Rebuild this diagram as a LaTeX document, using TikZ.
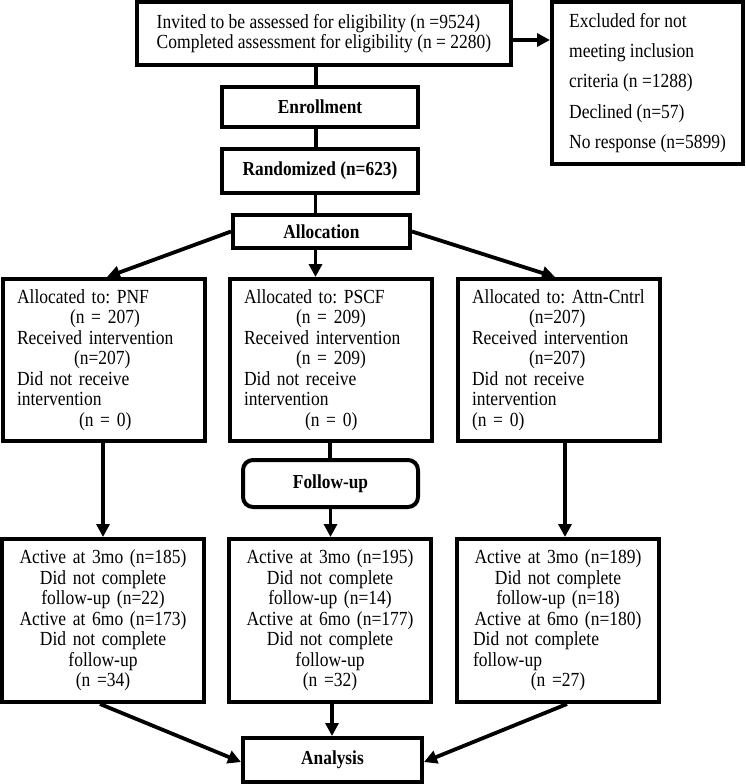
\documentclass[tikz,border=0pt]{standalone}
\usepackage{fontspec}
\setmainfont{Liberation Serif}[FakeStretch=0.875]
\usetikzlibrary{arrows.meta}
\setlength{\parindent}{0pt}
\frenchspacing
\begin{document}
\begin{tikzpicture}[x=1pt,y=-1pt,
  box/.style={draw, line width=4pt, inner sep=0pt, font=\fontsize{20}{20.5}\selectfont},
  hbox/.style={box, font=\fontsize{19.8}{20}\selectfont\bfseries},
  grp/.style={box, minimum width=202pt, minimum height=162pt},
  conn/.style={line width=3.8pt},
  arr/.style={conn, -{Triangle[length=13pt,width=13pt]}}]
\useasboundingbox (0,0) rectangle (745,784);

\node[box, minimum width=374pt, minimum height=63pt, align=left, font=\fontsize{20}{20.5}\selectfont] (top) at (324,33.5)
  {Invited to be assessed for eligibility (n =9524)\\Completed assessment for eligibility (n = 2280)};
\node[box, minimum width=191pt, minimum height=162pt, align=left, font=\fontsize{20}{30.25}\selectfont] (excl) at (647.5,83)
  {Excluded for not\\meeting inclusion\\criteria (n =1288)\\Declined (n=57)\\No response (n=5899)};

\node[hbox, minimum width=196pt, minimum height=40pt] (enroll) at (320,107) {Enrollment};
\node[hbox, minimum width=196pt, minimum height=44pt] (rand) at (320,171) {Randomized (n=623)};
\node[hbox, minimum width=177pt, minimum height=33pt] (alloc) at (321.5,231.5) {Allocation};

\node[grp, text width=174pt, align=left] (a1) at (104,360)
  {Allocated to: PNF\\\hspace*{53pt}(n = 207)\\Received intervention\\\hspace*{57pt}(n=207)\\Did not receive\\intervention\\\hspace*{62pt}(n = 0)};
\node[grp, text width=174pt, align=left] (a2) at (331,360)
  {Allocated to: PSCF\\\hspace*{52pt}(n = 209)\\Received intervention\\\hspace*{52pt}(n = 209)\\Did not receive\\intervention\\\hspace*{61pt}(n = 0)};
\node[grp, text width=174pt, align=left] (a3) at (559,360)
  {\mbox{Allocated to: Attn-Cntrl}\\\hspace*{57pt}(n=207)\\Received intervention\\\hspace*{57pt}(n=207)\\Did not receive\\intervention\\(n = 0)};

\node[hbox, minimum width=175pt, minimum height=47pt, rounded corners=10pt] (follow) at (330.5,483.5) {Follow-up};

\node[grp, minimum height=163pt, text width=180pt, align=center] (b1) at (103,620.5)
  {Active at 3mo (n=185)\\Did not complete\\follow-up (n=22)\\Active at 6mo (n=173)\\Did not complete\\follow-up\\(n =34)};
\node[grp, minimum height=163pt, text width=180pt, align=center] (b2) at (330,620.5)
  {Active at 3mo (n=195)\\Did not complete\\follow-up (n=14)\\Active at 6mo (n=177)\\Did not complete\\follow-up\\(n =32)};
\node[grp, minimum height=163pt, text width=170pt, align=center] (b3) at (558,620.5)
  {Active at 3mo (n=189)\\Did not complete\\follow-up (n=18)\\Active at 6mo (n=180)\\\makebox[\hsize][l]{Did not complete}\\\makebox[\hsize][l]{follow-up}\\(n =27)};

\node[hbox, minimum width=179pt, minimum height=44pt] (anal) at (332.5,760) {Analysis};

% connectors
\draw[arr] ([yshift=-6.5pt]top.east) -- ([yshift=-6.5pt]top.east -| excl.west);
\draw[conn] ([xshift=-4pt]enroll.north) -- ([xshift=-4pt]enroll.north |- top.south);
\draw[conn] ([xshift=-4pt]rand.north) -- ([xshift=-4pt]rand.north |- enroll.south);
\draw[conn] ([xshift=-6pt]alloc.north) -- ([xshift=-6pt]alloc.north |- rand.south);
\draw[arr] (alloc.west) -- ([xshift=3pt]a1.north);
\draw[arr] ([xshift=-6pt]alloc.south) -- ([xshift=-6pt]alloc.south |- a2.north);
\draw[arr] (alloc.east) -- ([xshift=-4pt]a3.north);
\draw[arr] ([xshift=-1pt]a1.south) -- ([xshift=-1pt]a1.south |- b1.north);
\draw[conn] ([xshift=-1pt]a2.south) -- ([xshift=-1pt]a2.south |- follow.north);
\draw[arr] (follow.south) -- (follow.south |- b2.north);
\draw[arr] ([xshift=6pt]a3.south) -- ([xshift=6pt]a3.south |- b3.north);
\draw[arr] ([xshift=-3pt]b1.south) -- ([yshift=-2pt]anal.west);
\draw[arr] ([xshift=2pt]b2.south) -- ([xshift=2pt]b2.south |- anal.north);
\draw[arr] ([xshift=9pt]b3.south) -- ([yshift=-2pt]anal.east);
\end{tikzpicture}
\end{document}
